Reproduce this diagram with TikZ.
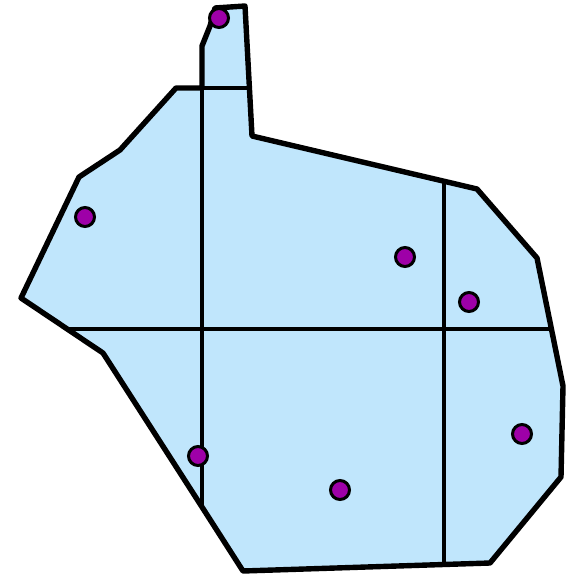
\documentclass[tikz,border=0pt]{standalone}
\usepackage{tikz}
\usepackage{xcolor}

\definecolor{cellblue}{RGB}{192,230,252}
\definecolor{sitepurple}{RGB}{158,0,168}

\begin{document}
\begin{tikzpicture}[
  x=1pt, y=-1pt,
  region/.style={draw=black, fill=cellblue, line width=5.4pt, line join=round},
  cut/.style={draw=black, line width=4.6pt},
  site/.style={circle, draw=black, fill=sitepurple, line width=3pt, minimum size=19pt, inner sep=0pt},
]
\useasboundingbox (0,0) rectangle (566,575);

% outline of the whole region
\draw[region] (215,8) -- (245,6) -- (252,136) -- (477,189) -- (537,258)
  -- (563,386) -- (561,477) -- (490,563) -- (243,571) -- (202,507)
  -- (103,353) -- (21,298) -- (79,177) -- (120,150) -- (176,88)
  -- (202,88) -- (202,46) -- (210,26) -- cycle;

% cuts
\coordinate (vtop) at (202,88);
\coordinate (vbot) at (202,507);
\coordinate (htl) at (176,88);
\coordinate (htr) at (249,88);
\coordinate (hml) at (67,329);
\coordinate (hmr) at (553,329);
\coordinate (rtop) at (444,183);
\coordinate (rbot) at (444,566);
\draw[cut] (vtop) -- (vbot);
\draw[cut] (htl) -- (htr);
\draw[cut] (hml) -- (hmr);
\draw[cut] (rtop) -- (rbot);

% sites
\node[site] (s1) at (219,18) {};
\node[site] (s2) at (85,217) {};
\node[site] (s3) at (405,257) {};
\node[site] (s4) at (469,302) {};
\node[site] (s5) at (522,434) {};
\node[site] (s6) at (198,456) {};
\node[site] (s7) at (340,490) {};

\end{tikzpicture}
\end{document}
